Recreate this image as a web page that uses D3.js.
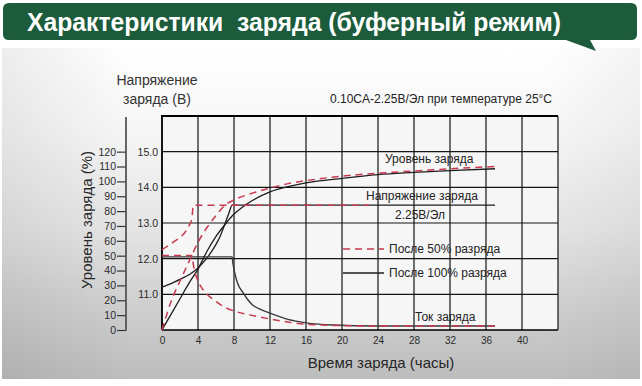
<!DOCTYPE html>
<html><head><meta charset="utf-8">
<script src="https://cdn.jsdelivr.net/npm/d3@7"></script>
<style>
body{margin:0;background:#fff;}
svg{display:block;font-family:"Liberation Sans",Arial,sans-serif;}
</style>
</head><body><svg id="c" width="642" height="386"></svg>
<script>
// ---- data ----
const hourTicks = [0,4,8,12,16,20,24,28,32,36,40];
const voltTicks = [11,12,13,14,15];
const pctTicks = [0,10,20,30,40,50,60,70,80,90,100,110,120];

// charge level (%) after 100% discharge
const c100Hours = [0,1,2,3,4,5,6,7,8,9,10,12,14,16,20,24,28,32,37];
const c100Values = [0,10.5,21,31.5,41,53,63,71,78,83,87,93,96.5,99,102,104.5,106,107.3,108.5];
// charge level (%) after 50% discharge
const c50Hours = [0,1,2,3,4,5,6,7,8,10,12,14,16,20,24,28,32,37];
const c50Values = [0,19,33,46,59,69,77,84,87.5,92,95.5,98.5,100.5,103.5,105.5,107,108.5,110];
// charge voltage (V)
const v100Hours = [0,1,2,3,4,5,6,6.5,7,7.4,7.8,37];
const v100Values = [11.2,11.3,11.42,11.55,11.74,12.02,12.4,12.65,12.98,13.25,13.5,13.5];
const v50Hours = [0,1,2,2.5,3,3.3,3.5,23];
const v50Values = [12.25,12.42,12.6,12.72,12.92,13.1,13.5,13.5];
// charge current (CA)
const i100Hours = [0,7.8,7.85,7.95,8.1,8.4,9,9.5,10,11,12,14,16,19,24,37];
const i100Values = [0.1,0.1,0.094,0.086,0.077,0.064,0.051,0.042,0.035,0.028,0.023,0.0145,0.0098,0.0068,0.0055,0.0055];
const i50Hours = [0,3.3,3.4,3.55,3.9,4.4,5,6,7,8,10,12,14,16,20,24,37];
const i50Values = [0.102,0.102,0.095,0.085,0.07,0.058,0.049,0.039,0.031,0.026,0.02,0.015,0.0108,0.0078,0.006,0.0055,0.0055];

// ---- layout ----
const L = 162, R = 558, T = 116, B = 330;
const RED = "#c8384f", BLK = "#1e1e1e", GRID = "#141414";

const svg = d3.select("#c");
const defs = svg.append("defs");
const g1 = defs.append("linearGradient").attr("id","bg").attr("x1",0).attr("y1",0).attr("x2",0).attr("y2",1);
[[0,"#ffffff"],[0.25,"#f6f6f6"],[0.55,"#e4e4e4"],[0.8,"#cdcdcd"],[1,"#bcbdbd"]].forEach(s=>g1.append("stop").attr("offset",s[0]).attr("stop-color",s[1]));
const g2 = defs.append("linearGradient").attr("id","lf").attr("x1",0).attr("y1",0).attr("x2",1).attr("y2",0);
g2.append("stop").attr("offset",0).attr("stop-color","#000").attr("stop-opacity",0.07);
g2.append("stop").attr("offset",0.2).attr("stop-color","#000").attr("stop-opacity",0);
g2.append("stop").attr("offset",0.85).attr("stop-color","#000").attr("stop-opacity",0);
g2.append("stop").attr("offset",1).attr("stop-color","#000").attr("stop-opacity",0.04);

svg.append("rect").attr("x",2).attr("y",48).attr("width",638).attr("height",331).attr("fill","url(#bg)");
svg.append("rect").attr("x",2).attr("y",48).attr("width",638).attr("height",331).attr("fill","url(#lf)");

// title banner
svg.append("path")
  .attr("d","M9,3 H631 Q637,3 637,9 V34 Q637,40 631,40 H590 L596,51 L566,40 H9 Q3,40 3,34 V9 Q3,3 9,3 Z")
  .attr("fill","#1c5b3b");
svg.append("text").attr("x",27).attr("y",31)
  .style("white-space","pre")
  .attr("font-family","'Liberation Sans Narrow','Liberation Sans',Arial,sans-serif")
  .attr("font-weight","bold").attr("font-size",26).attr("fill","#fff")
  .attr("textLength",534).attr("lengthAdjust","spacingAndGlyphs")
  .text("Характеристики  заряда (буферный режим)");

// scales
const x = d3.scaleLinear().domain([0,44]).range([L,R]);
const yV = d3.scaleLinear().domain([10,16]).range([B,T]);
const yP = d3.scaleLinear().domain([0,120]).range([B,yV(15)]);
const yI = d3.scaleLinear().domain([0,0.1]).range([B,yV(12.05)]);

// plot background
svg.append("rect").attr("x",L).attr("y",T).attr("width",R-L).attr("height",B-T).attr("fill","#f6f6f6");

// grid
const gridG = svg.append("g").attr("stroke",GRID).attr("stroke-width",1.2);
d3.range(0,45,4).forEach(h=>gridG.append("line").attr("x1",x(h)).attr("x2",x(h)).attr("y1",T).attr("y2",B));
d3.range(11,16,1).forEach(v=>gridG.append("line").attr("x1",L).attr("x2",R).attr("y1",yV(v)).attr("y2",yV(v)));
// borders
svg.append("line").attr("x1",L-1).attr("x2",R).attr("y1",T).attr("y2",T).attr("stroke","#000").attr("stroke-width",2.2);
svg.append("line").attr("x1",L).attr("x2",L).attr("y1",T).attr("y2",B).attr("stroke","#000").attr("stroke-width",1.6);
svg.append("line").attr("x1",L).attr("x2",R).attr("y1",B).attr("y2",B).attr("stroke","#000").attr("stroke-width",1.4);

// curves
const mk = (hs, vs) => hs.map((h,i)=>[h, vs[i]]);
const line = (ys) => d3.line().x(d=>x(d[0])).y(d=>ys(d[1])).curve(d3.curveMonotoneX);
const curves = svg.append("g").attr("fill","none");
function draw(data, ys, color, dashed, w){
  curves.append("path").attr("d", line(ys)(data)).attr("stroke",color)
    .attr("stroke-width",w).attr("stroke-dasharray", dashed ? "7,5" : null);
}
draw(mk(v100Hours,v100Values), yV, BLK, false, 1.3);
draw(mk(i100Hours,i100Values), yI, "#3a3a3a", false, 1.4);
draw(mk(c100Hours,c100Values), yP, BLK, false, 1.3);
draw(mk(v50Hours,v50Values), yV, RED, true, 1.5);
draw(mk(i50Hours,i50Values), yI, RED, true, 1.5);
draw(mk(c50Hours,c50Values), yP, RED, true, 1.5);

// voltage axis labels
const ax = svg.append("g").attr("transform",`translate(${L},0)`)
  .call(d3.axisLeft(yV).tickValues(voltTicks).tickSize(0).tickPadding(4).tickFormat(d3.format(".1f")));
ax.select(".domain").remove();
ax.selectAll("text").attr("font-size",10.5).attr("fill","#2a2a2a").attr("font-family","'Liberation Sans',Arial,sans-serif");

// percent axis
const PX = 126;
const ap = svg.append("g").attr("transform",`translate(${PX},0)`)
  .call(d3.axisLeft(yP).tickValues(pctTicks).tickSize(9).tickPadding(1));
ap.select(".domain").remove();
ap.selectAll("line").attr("stroke","#333").attr("stroke-width",1.2);
ap.selectAll("text").attr("font-size",10.5).attr("fill","#2a2a2a").attr("font-family","'Liberation Sans',Arial,sans-serif");
svg.append("line").attr("x1",PX).attr("x2",PX).attr("y1",T+1).attr("y2",B+0.6).attr("stroke","#555").attr("stroke-width",1.8);

// hour axis labels
const axb = svg.append("g").attr("transform",`translate(0,${B})`)
  .call(d3.axisBottom(x).tickValues(hourTicks).tickSize(0).tickPadding(7));
axb.select(".domain").remove();
axb.selectAll("text").attr("font-size",10).attr("fill","#2a2a2a").attr("font-family","'Liberation Sans',Arial,sans-serif");

// texts
const txt = (s, xx, yy, size, opts={}) => svg.append("text").attr("x",xx).attr("y",yy)
  .attr("font-size",size).attr("fill",opts.fill||"#222").attr("text-anchor",opts.anchor||"start").text(s);
txt("Напряжение", 157, 85, 14, {anchor:"middle", fill:"#333"});
txt("заряда (В)", 157, 104, 14, {anchor:"middle", fill:"#333"});
txt("0.10CA-2.25В/Эл при температуре 25°C", 330, 103, 12);
txt("Время заряда (часы)", 381, 368, 15, {anchor:"middle", fill:"#262626"});
svg.append("text").attr("transform","translate(92,220) rotate(-90)").attr("text-anchor","middle")
  .attr("font-size",15).attr("fill","#262626").text("Уровень заряда (%)");

txt("Уровень заряда", 385, 163, 12);
txt("Напряжение заряда", 366, 200, 12);
txt("2.25В/Эл", 395, 219, 12);
txt("После 50% разряда", 389, 253, 12);
txt("После 100% разряда", 389, 277, 12);
txt("Ток заряда", 415, 321, 12);

// legend samples
svg.append("line").attr("x1",343).attr("x2",384).attr("y1",249).attr("y2",249)
  .attr("stroke",RED).attr("stroke-width",1.5).attr("stroke-dasharray","7,5");
svg.append("line").attr("x1",343).attr("x2",384).attr("y1",273).attr("y2",273)
  .attr("stroke",BLK).attr("stroke-width",1.3);
</script>
</body></html>
